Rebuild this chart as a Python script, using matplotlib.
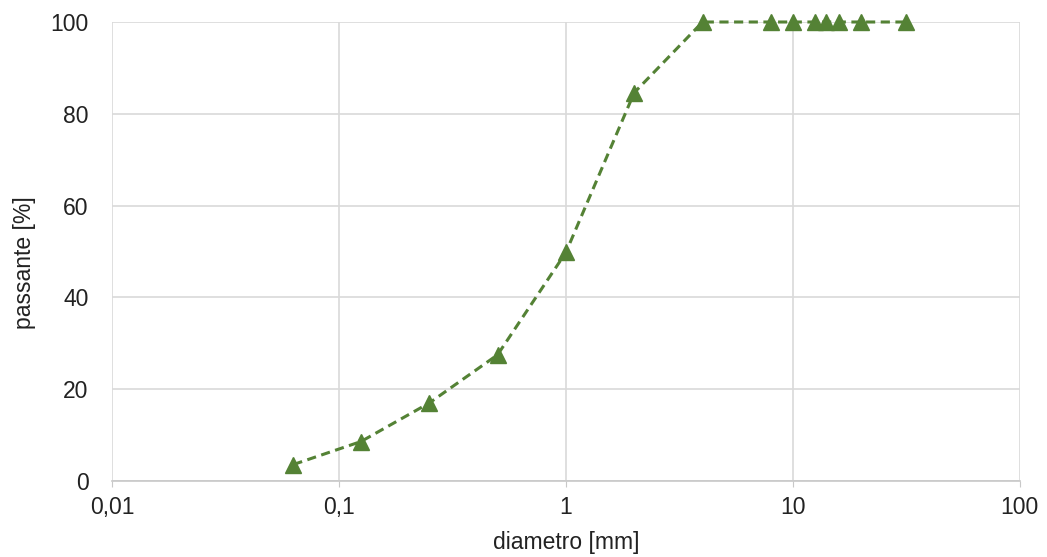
import numpy as np
import matplotlib.pyplot as plt
from matplotlib.ticker import FixedLocator, FixedFormatter, NullLocator

plt.rcParams['font.family'] = ['Liberation Sans', 'DejaVu Sans']

# granulometric curve
diametro = [0.063, 0.125, 0.25, 0.5, 1, 2, 4, 8, 10, 12.5, 14, 16, 20, 31.5]
passante = [3.6, 8.6, 17, 27.5, 49.8, 84.6, 100, 100, 100, 100, 100, 100, 100, 100]

x_ticks = [0.01, 0.1, 1, 10, 100]
x_labels = ['0,01', '0,1', '1', '10', '100']
y_ticks = [0, 20, 40, 60, 80, 100]

fig = plt.figure(figsize=(10.47, 5.57), dpi=100)
ax = fig.add_axes([0.107, 0.1364, 0.867, 0.8241])

green = '#548235'
ax.plot(diametro, passante, color=green, linestyle=(0, (3, 1.8)), linewidth=2.2,
        marker='^', markersize=11, markeredgecolor=green, markerfacecolor=green,
        zorder=3, clip_on=False)

ax.set_xscale('log')
ax.set_xlim(0.01, 100)
ax.set_ylim(0, 100)
ax.xaxis.set_major_locator(FixedLocator(x_ticks))
ax.xaxis.set_major_formatter(FixedFormatter(x_labels))
ax.xaxis.set_minor_locator(NullLocator())
ax.set_yticks(y_ticks)

ax.grid(True, color='#d9d9d9', linewidth=1.2)
ax.set_axisbelow(True)
for s in ['top', 'right', 'left']:
    ax.spines[s].set_visible(False)
ax.spines['bottom'].set_color('#c8c8c8')
ax.spines['bottom'].set_linewidth(1.2)
ax.tick_params(axis='x', colors='#c8c8c8', length=4, labelcolor='#222222', labelsize=16.5, pad=7)
ax.tick_params(axis='y', length=0, labelcolor='#222222', labelsize=16.5, pad=17)

ax.set_xlabel('diametro [mm]', fontsize=16.5, color='#222222', va='center')
ax.set_ylabel('passante [%]', fontsize=16.5, color='#222222', va='center')
ax.xaxis.set_label_coords(0.5, -0.133)
ax.yaxis.set_label_coords(-0.096, 0.475)

fig.savefig('out.png', dpi=100)
